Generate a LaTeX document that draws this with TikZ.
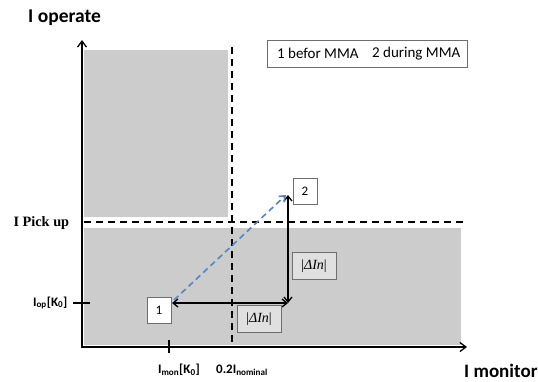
\documentclass[tikz,border=0pt]{standalone}
\usepackage{fontspec}
\setmainfont{Carlito}
\newfontfamily\serifbold{Liberation Serif}
\usetikzlibrary{arrows.meta}
\definecolor{regionfill}{RGB}{204,204,204}
\definecolor{dashblue}{RGB}{84,134,196}
\definecolor{lblfill}{RGB}{224,224,224}
\definecolor{boxline}{RGB}{110,110,110}

\tikzset{
  axis/.style={line width=1.3pt, -{Straight Barb[length=6pt,width=9pt]}},
  limit/.style={line width=1.7pt, dash pattern=on 7pt off 5pt},
  delta/.style={line width=1.3pt, {Straight Barb[length=5pt,width=8pt]}-{Straight Barb[length=5pt,width=8pt]}},
  movearrow/.style={line width=1.6pt, dashblue, dash pattern=on 6pt off 4pt, -{Straight Barb[length=5pt,width=8pt]}},
  numbox/.style={draw=boxline, fill=white, line width=0.6pt, minimum width=24pt, minimum height=26pt, inner sep=0pt, font=\fontsize{13}{14}\selectfont},
  lblbox/.style={draw=boxline, fill=lblfill, line width=0.6pt, minimum width=44pt, minimum height=27pt, inner sep=0pt, font=\serifbold\fontsize{14}{15}\selectfont},
  axlabel/.style={font=\bfseries\fontsize{19.5}{22}\selectfont, inner sep=0pt},
  ticklabel/.style={font=\bfseries\fontsize{13}{14}\selectfont},
  legendtext/.style={font=\fontsize{15}{16}\selectfont, anchor=west, inner sep=0pt},
}

\begin{document}
\begin{tikzpicture}[x=1pt,y=-1pt]
\useasboundingbox (0,0) rectangle (538,381);

% operating regions
\fill[regionfill] (84,50) rectangle (228,217);
\fill[regionfill] (84,228) rectangle (461,345);

% pick-up and 0.2 I_nominal limits
\coordinate (pl) at (84,222);
\coordinate (pr) at (463,222);
\coordinate (vt) at (232,47);
\coordinate (vb) at (232,345);
\draw[limit] (pl) -- (pr);
\draw[limit] (vt) -- (vb);

% axes
\coordinate (o) at (82,347);
\coordinate (yt) at (82,40);
\coordinate (xr) at (467,347);
\draw[axis] (o) -- (yt);
\draw[axis] (81.35,347) -- (xr);

% ticks
\coordinate (tyl) at (73,303);
\coordinate (tyr) at (90,303);
\coordinate (txt) at (169,340);
\coordinate (txb) at (169,353);
\draw[line width=1.2pt] (tyl) -- (tyr);
\draw[line width=1.2pt] (txt) -- (txb);

% axis labels
\node[axlabel, anchor=west] (yl) at (28,18) {I operate};
\node[axlabel, anchor=base west, font=\bfseries\fontsize{19}{22}\selectfont] (xl) at (464,377) {I monitor};
\node[font=\serifbold\bfseries\fontsize{14.3}{16}\selectfont, anchor=west] (pick) at (10,223) {I Pick up};
\node[ticklabel, anchor=east] (iop) at (71,303) {I\textsubscript{op}[K\textsubscript{0}]};
\node[ticklabel] (imon) at (179,370) {I\textsubscript{mon}[K\textsubscript{0}]};
\node[ticklabel] (inom) at (242,370) {0.2I\textsubscript{nominal}};

% legend
\node[draw=boxline, line width=0.6pt, minimum width=200pt, minimum height=27pt] (legend) at (367,53.5) {};
\node[legendtext] (lg1) at (277,53.5) {1 befor MMA};
\node[legendtext] (lg2) at (372,53.5) {2 during MMA};

% operating points
\node[numbox] (p1) at (159,310) {1};
\node[numbox] (p2) at (305,191) {2};

% current changes
\coordinate (h1) at (172,303);
\coordinate (c) at (288,303);
\coordinate (t) at (288,195);
\coordinate (s1) at (174,300);
\coordinate (s2) at (286,195);
\draw[delta] (h1) -- (c);
\draw[delta] (c) -- (t);
\draw[movearrow] (s1) -- (s2);

\node[lblbox] (dh) at (259,319) {|\textit{ΔIn}|};
\node[lblbox] (dv) at (314,266) {|\textit{ΔIn}|};
\end{tikzpicture}
\end{document}
